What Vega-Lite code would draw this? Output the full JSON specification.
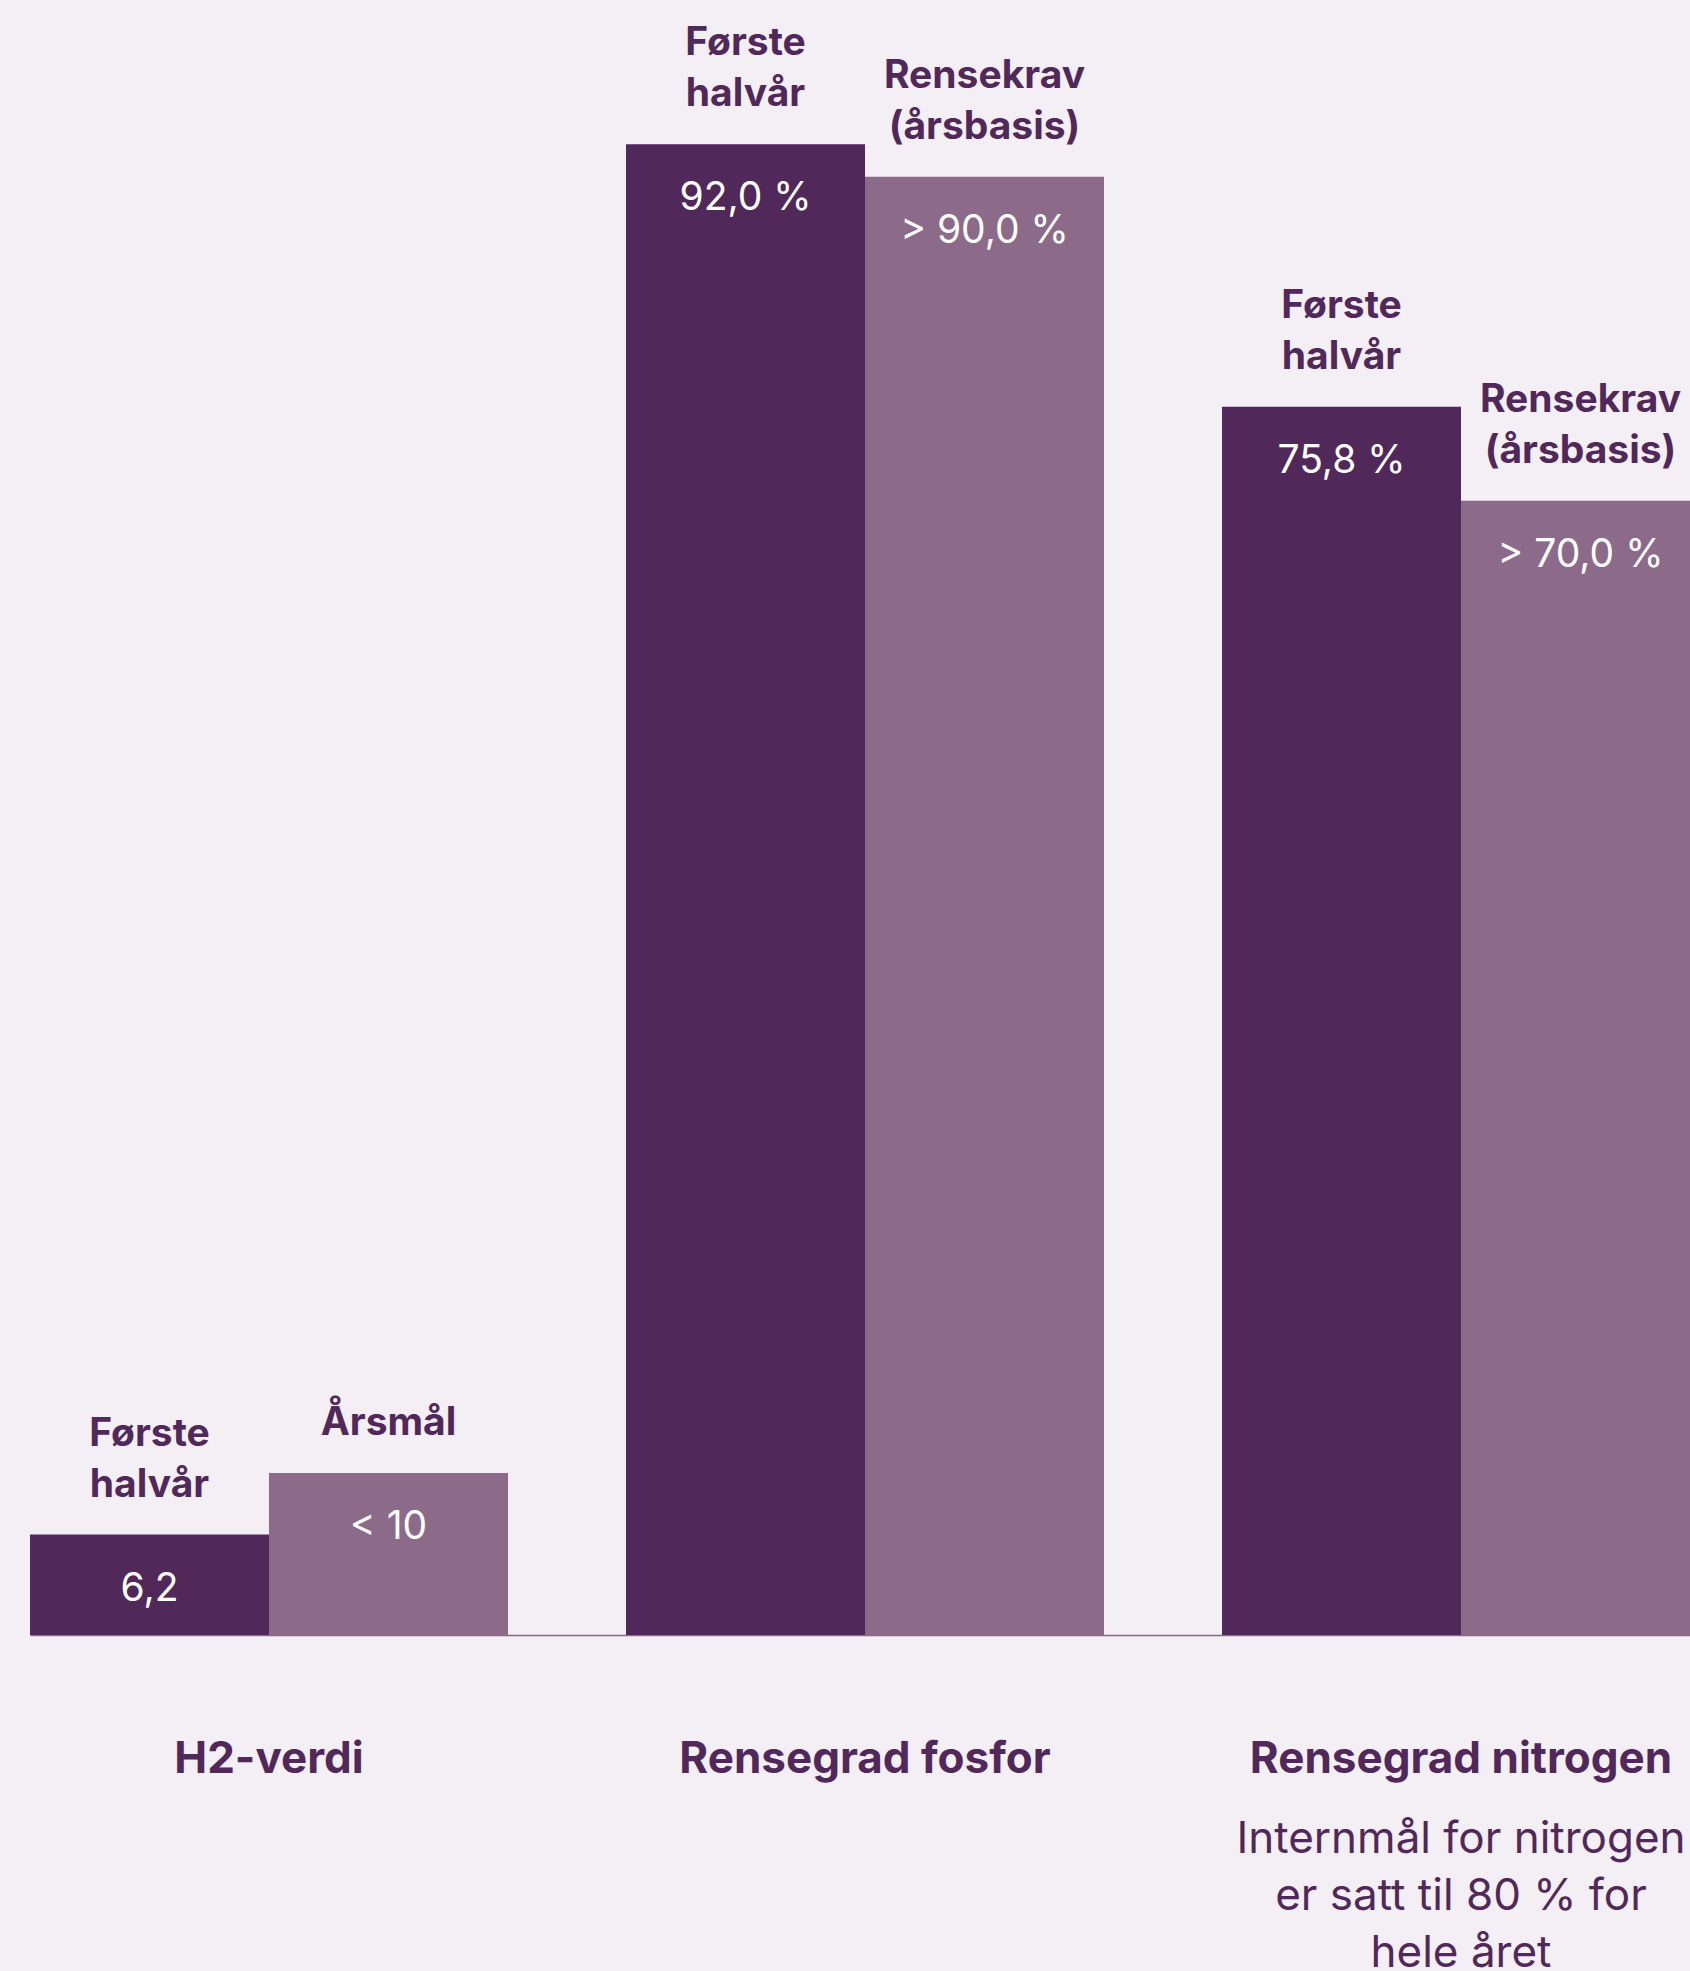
{
  "$schema": "https://vega.github.io/schema/vega-lite/v6.json",
  "width": 1690,
  "height": 1635,
  "autosize": {"type": "none"},
  "padding": {"left": 0, "top": 0, "right": 0, "bottom": 336},
  "background": "#F4EFF5",
  "config": {"view": {"stroke": null}, "font": "Inter"},
  "datasets": {
    "bars": [
      {"group": "H2-verdi", "series": "a", "value": 6.2, "valueLabel": "6,2", "line1": "Første", "line2": "halvår"},
      {"group": "H2-verdi", "series": "b", "value": 10, "valueLabel": "< 10", "line1": "", "line2": "Årsmål"},
      {"group": "Rensegrad fosfor", "series": "a", "value": 92.0, "valueLabel": "92,0 %", "line1": "Første", "line2": "halvår"},
      {"group": "Rensegrad fosfor", "series": "b", "value": 90.0, "valueLabel": "> 90,0 %", "line1": "Rensekrav", "line2": "(årsbasis)"},
      {"group": "Rensegrad nitrogen", "series": "a", "value": 75.8, "valueLabel": "75,8 %", "line1": "Første", "line2": "halvår"},
      {"group": "Rensegrad nitrogen", "series": "b", "value": 70.0, "valueLabel": "> 70,0 %", "line1": "Rensekrav", "line2": "(årsbasis)"}
    ],
    "groups": [
      {"group": "H2-verdi", "note": [""]},
      {"group": "Rensegrad fosfor", "note": [""]},
      {"group": "Rensegrad nitrogen", "note": ["Internmål for nitrogen", "er satt til 80 % for", "hele året"]}
    ]
  },
  "encoding": {
    "x": {
      "field": "group",
      "type": "nominal",
      "scale": {"domain": ["H2-verdi", "Rensegrad fosfor", "Rensegrad nitrogen"], "range": [30, 1700], "paddingInner": 0.198, "paddingOuter": 0},
      "axis": {"labels": false, "ticks": false, "title": null, "grid": false, "domain": true, "domainColor": "#8B6889", "domainWidth": 1.5}
    }
  },
  "layer": [
    {
      "data": {"name": "bars"},
      "mark": {"type": "bar"},
      "encoding": {
        "xOffset": {"field": "series", "type": "nominal", "scale": {"paddingInner": 0, "paddingOuter": 0}},
        "y": {"field": "value", "type": "quantitative", "scale": {"domain": [0, 100.9], "nice": false, "zero": true}, "axis": null},
        "color": {"field": "series", "type": "nominal", "scale": {"domain": ["a", "b"], "range": ["#51285A", "#8C6A8A"]}, "legend": null}
      }
    },
    {
      "data": {"name": "bars"},
      "mark": {"type": "text", "color": "#FFFFFF", "fontSize": 39, "baseline": "alphabetic", "align": "center", "dy": 66},
      "encoding": {
        "xOffset": {"field": "series", "type": "nominal"},
        "y": {"field": "value", "type": "quantitative"},
        "text": {"field": "valueLabel"}
      }
    },
    {
      "data": {"name": "bars"},
      "mark": {"type": "text", "color": "#51285A", "fontSize": 39, "fontWeight": "bold", "baseline": "alphabetic", "align": "center", "dy": -89},
      "encoding": {
        "xOffset": {"field": "series", "type": "nominal"},
        "y": {"field": "value", "type": "quantitative"},
        "text": {"field": "line1"}
      }
    },
    {
      "data": {"name": "bars"},
      "mark": {"type": "text", "color": "#51285A", "fontSize": 39, "fontWeight": "bold", "baseline": "alphabetic", "align": "center", "dy": -38},
      "encoding": {
        "xOffset": {"field": "series", "type": "nominal"},
        "y": {"field": "value", "type": "quantitative"},
        "text": {"field": "line2"}
      }
    },
    {
      "data": {"name": "groups"},
      "mark": {"type": "text", "color": "#51285A", "fontSize": 44, "fontWeight": "bold", "baseline": "alphabetic", "align": "center", "dy": 138},
      "encoding": {
        "y": {"datum": 0, "type": "quantitative"},
        "text": {"field": "group"}
      }
    },
    {
      "data": {"name": "groups"},
      "mark": {"type": "text", "color": "#51285A", "fontSize": 44, "baseline": "alphabetic", "align": "center", "dy": 218, "lineHeight": 57},
      "encoding": {
        "y": {"datum": 0, "type": "quantitative"},
        "text": {"field": "note"}
      }
    }
  ]
}
